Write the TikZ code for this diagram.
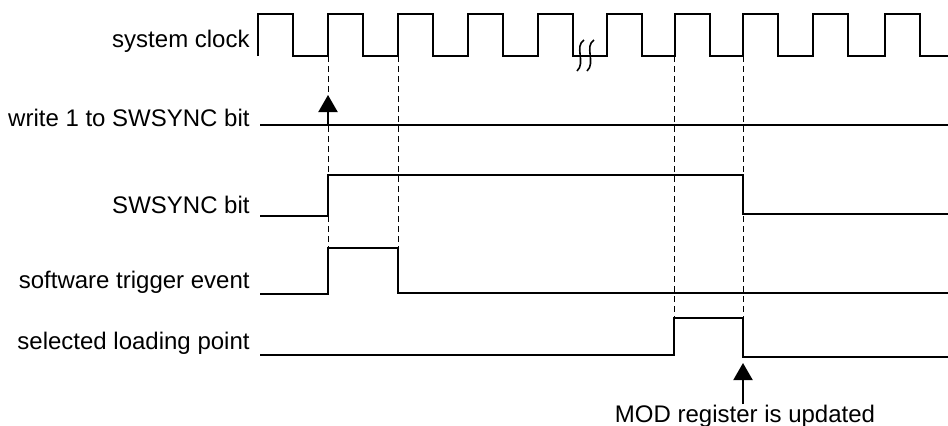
\documentclass[tikz,border=0pt]{standalone}
\usepackage{fontspec}
\setmainfont{Liberation Sans}
\usetikzlibrary{arrows.meta,calc}
\definecolor{WaveClr}{rgb}{0,0,0}
\tikzset{
  wave/.style={line width=1.25pt,color=WaveClr,line join=miter},
  guide/.style={line width=0.5pt,dash pattern=on 3pt off 2pt},
  signame/.style={anchor=base east,inner sep=0pt,font=\fontsize{12}{14}\selectfont},
  pointer/.style={line width=1pt,-{Triangle[length=8.5pt,width=9.5pt]}}
}

\begin{document}
\begin{tikzpicture}[x=0.5pt,y=-0.5pt]
\useasboundingbox (0,0) rectangle (948,425);

\node[signame] (clk) at (250,47) {system clock};
\node[signame] (wr) at (250,126) {write 1 to SWSYNC bit};
\node[signame] (sw) at (250,213) {SWSYNC bit};
\node[signame] (trg) at (250,288) {software trigger event};
\node[signame] (sel) at (250,349) {selected loading point};
\node[anchor=base,inner sep=0pt,font=\fontsize{12}{14}\selectfont] (mod) at (745,422) {MOD register is updated};

\coordinate (wrtip) at (328,95);
\coordinate (wrfoot) at (328,125);
\coordinate (upd) at (743,363);

\draw[wave] (258,56) foreach \x in {258,328,398,468,538,607,675,743,813,885}
  {-- (\x,56) -- (\x,14) -- (\x+35,14) -- (\x+35,56)} -- (948,56);
\draw[line width=0.8pt] (584,40) .. controls (574,46) and (586,63) .. (577,71);
\draw[line width=0.8pt] (594,40) .. controls (584,46) and (596,63) .. (587,71);

\draw[wave] (260,125) -- (948,125);
\draw[wave] (260,216) -- (328,216) -- (328,175) -- (743,175) -- (743,214) -- (948,214);
\draw[wave] (260,294) -- (328,294) -- (328,248) -- (398,248) -- (398,293) -- (948,293);
\draw[wave] (260,355) -- (674,355) -- (674,318) -- (743,318) -- (743,357) -- (948,357);

\draw[guide] (328,56) -- (328,248);
\draw[guide] (398,56) -- (398,248);
\draw[guide] (674,56) -- (674,318);
\draw[guide] (743,56) -- (743,357);

\draw[pointer] (wrfoot) -- (wrtip);
\draw[pointer] (mod.north -| upd) -- (upd);

\end{tikzpicture}
\end{document}
